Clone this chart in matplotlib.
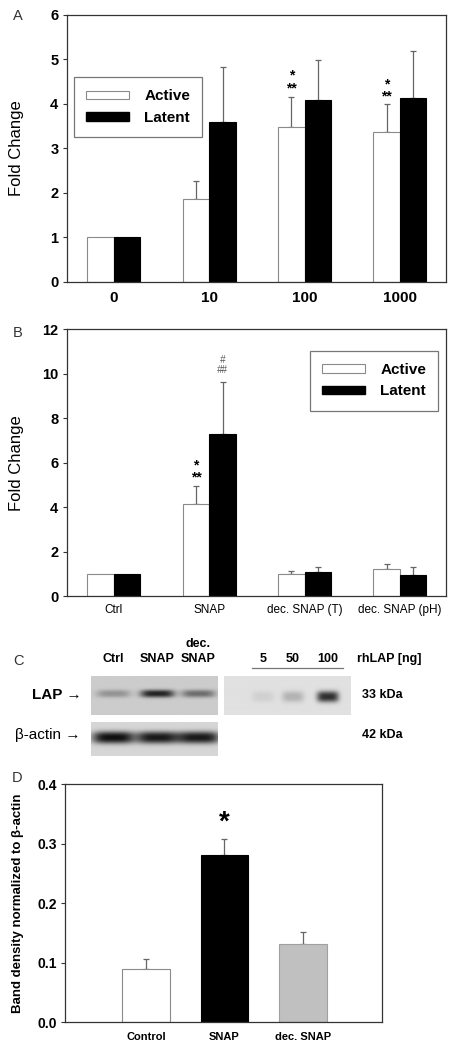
import numpy as np
import matplotlib
matplotlib.use('Agg')
import matplotlib.pyplot as plt
from matplotlib.patches import Patch

plt.rcParams['font.family'] = ['Liberation Sans', 'DejaVu Sans']

# ---------------- data ----------------
a_categories = ['0', '10', '100', '1000']
a_active = [1.0, 1.85, 3.49, 3.36]
a_active_top = [1.0, 2.27, 4.16, 4.00]
a_latent = [1.0, 3.60, 4.08, 4.14]
a_latent_top = [1.0, 4.84, 4.98, 5.20]

b_categories = ['Ctrl', 'SNAP', 'dec. SNAP (T)', 'dec. SNAP (pH)']
b_active = [1.0, 4.14, 0.99, 1.20]
b_active_top = [1.0, 4.95, 1.14, 1.44]
b_latent = [1.0, 7.28, 1.10, 0.96]
b_latent_top = [1.0, 9.63, 1.29, 1.29]

d_categories = ['Control', 'SNAP', 'dec. SNAP']
d_values = [0.0896, 0.281, 0.1317]
d_top = [0.106, 0.3076, 0.152]
d_colors = ['white', 'black', '#c0c0c0']

lap_lanes = ['Ctrl', 'SNAP', 'SNAP']
lap_band = [0.30, 0.90, 0.50]
actin_band = [1.0, 0.95, 0.95]
rh_lanes = ['5', '50', '100']
rh_band = [0.08, 0.22, 0.85]

W, H = 461, 1047
fig = plt.figure(figsize=(W / 100, H / 100), dpi=100)


def fpos(x0, y0, x1, y1):
    return [x0 / W, 1 - y1 / H, (x1 - x0) / W, (y1 - y0) / H]


ERR_C = '#666666'
EDGE_W = '#8a8a8a'


def style_axes(ax):
    for s in ax.spines.values():
        s.set_linewidth(0.9)
        s.set_color('#333333')
    ax.tick_params(axis='y', direction='out', length=3, width=0.8, color='#333333', pad=3)
    ax.tick_params(axis='x', length=0)


def grouped(ax, cats, act, act_top, lat, lat_top, ylim, yticks):
    x = np.arange(len(cats))
    w = 0.278
    ax.bar(x - w / 2, act, w, color='white', edgecolor=EDGE_W, linewidth=0.8, zorder=2)
    ax.bar(x + w / 2, lat, w, color='black', edgecolor='black', linewidth=0.8, zorder=2)
    for xs, v, t in [(x - w / 2, act, act_top), (x + w / 2, lat, lat_top)]:
        for xi, vi, ti in zip(xs, v, t):
            if ti - vi > 1e-6:
                ax.errorbar(xi, vi, yerr=[[0], [ti - vi]], fmt='none', ecolor=ERR_C,
                            elinewidth=0.9, capsize=2.5, capthick=0.9, zorder=1)
    ax.set_xlim(-0.496, 3.48)
    ax.set_ylim(*ylim)
    ax.set_yticks(yticks)
    ax.set_xticks(x)
    style_axes(ax)
    return x, w


def legend(ax, anchor):
    leg = ax.legend(handles=[Patch(facecolor='white', edgecolor=EDGE_W, linewidth=0.8, label='Active'),
                             Patch(facecolor='black', edgecolor='black', label='Latent')],
                    loc='upper left', bbox_to_anchor=anchor, prop={'size': 11, 'weight': 'bold'},
                    handlelength=2.8, handleheight=0.45, handletextpad=1.0, labelspacing=0.5,
                    borderpad=0.8, borderaxespad=0, fancybox=False, framealpha=1)
    leg.get_frame().set_edgecolor('#777777')
    leg.get_frame().set_linewidth(0.9)
    return leg


def stars(ax, xx, yy, txt, ls, **kw):
    ax.text(xx, yy, txt, ha='center', va='center', multialignment='center',
            linespacing=ls, **kw)


# ---------------- Panel A ----------------
axA = fig.add_axes(fpos(66.7, 15, 445.7, 281.7))
x, w = grouped(axA, a_categories, a_active, a_active_top, a_latent, a_latent_top, (0, 6), range(0, 7))
axA.set_xticklabels(a_categories, fontsize=11, fontweight='bold')
axA.tick_params(axis='x', pad=7)
axA.set_yticklabels([str(t) for t in range(0, 7)], fontsize=10.5, fontweight='bold')
axA.set_ylabel('Fold Change', fontsize=12)
axA.yaxis.set_label_coords(-0.112, 0.5)
stars(axA, x[2] - w / 2, 4.50, '*\n**', 0.9, fontsize=10, fontweight='bold')
stars(axA, x[3] - w / 2, 4.31, '*\n**', 0.8, fontsize=10, fontweight='bold')
legend(axA, (0.019, 0.7675))
fig.text(18 / W, 1 - 16 / H, 'A', fontsize=10.5, ha='center', va='center', color='#333333')

# ---------------- Panel B ----------------
axB = fig.add_axes(fpos(66.7, 329.3, 445.7, 596))
x, w = grouped(axB, b_categories, b_active, b_active_top, b_latent, b_latent_top, (0, 12), range(0, 13, 2))
axB.set_xticklabels(b_categories, fontsize=8.5)
axB.tick_params(axis='x', pad=6)
axB.set_yticklabels([str(t) for t in range(0, 13, 2)], fontsize=10.5, fontweight='bold')
axB.set_ylabel('Fold Change', fontsize=12)
axB.yaxis.set_label_coords(-0.112, 0.5)
stars(axB, x[1] - w / 2, 5.6, '*\n**', 0.8, fontsize=10, fontweight='bold')
stars(axB, x[1] + w / 2, 10.4, '#\n##', 1.0, fontsize=7, style='italic', color='#555555')
legend(axB, (0.642, 0.92))
fig.text(18 / W, 1 - 333 / H, 'B', fontsize=10.5, ha='center', va='center', color='#333333')

# ---------------- Panel C (blots) ----------------
axC = fig.add_axes([0, 0, 1, 1])
axC.axis('off')
axC.patch.set_alpha(0)


def blot(x0, x1, y0, y1, bg, lanes_x, strengths, yc, sx, sy, dark=0.06):
    nx, ny = int((x1 - x0) * 2), int((y1 - y0) * 2)
    xx, yy = np.meshgrid(np.linspace(x0, x1, nx), np.linspace(y0, y1, ny))
    img = np.full(xx.shape, bg)
    for lx, s in zip(lanes_x, strengths):
        g = np.exp(-((xx - lx) / sx) ** 4) * np.exp(-np.abs((yy - yc) / sy) ** 2.5)
        img = img - s * g * (bg - dark)
    axC.imshow(img, cmap='gray', vmin=0, vmax=1, extent=(x0, x1, y1, y0), aspect='auto',
               interpolation='bilinear')


lap_x = [113, 157, 198]
blot(90.7, 217.3, 676.7, 715, 0.80, lap_x, lap_band, 694, 17, 3.8)
blot(224, 351, 676.7, 715, 0.88, [263, 293, 328], rh_band, 697, 11, 5.5)
blot(90.7, 217.3, 722.3, 755.7, 0.84, lap_x, actin_band, 737.5, 21, 6)
axC.set_xlim(0, W)
axC.set_ylim(H, 0)

fig.text(18 / W, 1 - 661 / H, 'C', fontsize=10.5, ha='center', va='center', color='#333333')
for lx, name in zip(lap_x, lap_lanes):
    axC.text(lx, 659, name, ha='center', va='center', fontsize=9, fontweight='bold')
axC.text(198, 644, 'dec.', ha='center', va='center', fontsize=9, fontweight='bold')
for lx, name in zip([263, 293, 328], rh_lanes):
    axC.text(lx, 659, name, ha='center', va='center', fontsize=9, fontweight='bold')
axC.plot([252, 343], [668, 668], color='#777777', lw=0.9)
axC.text(357, 659, 'rhLAP [ng]', ha='left', va='center', fontsize=9, fontweight='bold')
axC.text(32, 695, 'LAP \u2192', ha='left', va='center', fontsize=11, fontweight='bold')
axC.text(15, 735, '\u03b2-actin \u2192', ha='left', va='center', fontsize=11)
axC.text(362, 695, '33 kDa', ha='left', va='center', fontsize=9, fontweight='bold')
axC.text(362, 735, '42 kDa', ha='left', va='center', fontsize=9, fontweight='bold')

# ---------------- Panel D ----------------
axD = fig.add_axes(fpos(65, 784.3, 381.7, 1022.3))
xd = np.arange(len(d_categories))
edges = [EDGE_W, 'black', '#a0a0a0']
axD.bar(xd, d_values, 0.61, color=d_colors, edgecolor=edges, linewidth=0.8, zorder=2)
for xi, vi, ti in zip(xd, d_values, d_top):
    axD.errorbar(xi, vi, yerr=[[0], [ti - vi]], fmt='none', ecolor=ERR_C,
                 elinewidth=0.9, capsize=2.5, capthick=0.9, zorder=1)
axD.set_xlim(-1.037, 3.008)
axD.set_ylim(0, 0.4)
axD.set_yticks([0, 0.1, 0.2, 0.3, 0.4])
axD.set_yticklabels(['0.0', '0.1', '0.2', '0.3', '0.4'], fontsize=10, fontweight='bold')
axD.set_xticks(xd)
axD.set_xticklabels(d_categories, fontsize=8, fontweight='bold')
style_axes(axD)
axD.tick_params(axis='x', pad=7)
axD.set_ylabel('Band density normalized to \u03b2-actin', fontsize=9.5, fontweight='bold')
axD.yaxis.set_label_coords(-0.128, 0.5)
axD.text(1, 0.335, '*', ha='center', va='center', fontsize=20, fontweight='bold')
fig.text(17 / W, 1 - 778 / H, 'D', fontsize=10.5, ha='center', va='center', color='#333333')

fig.savefig('out.png', dpi=100)
